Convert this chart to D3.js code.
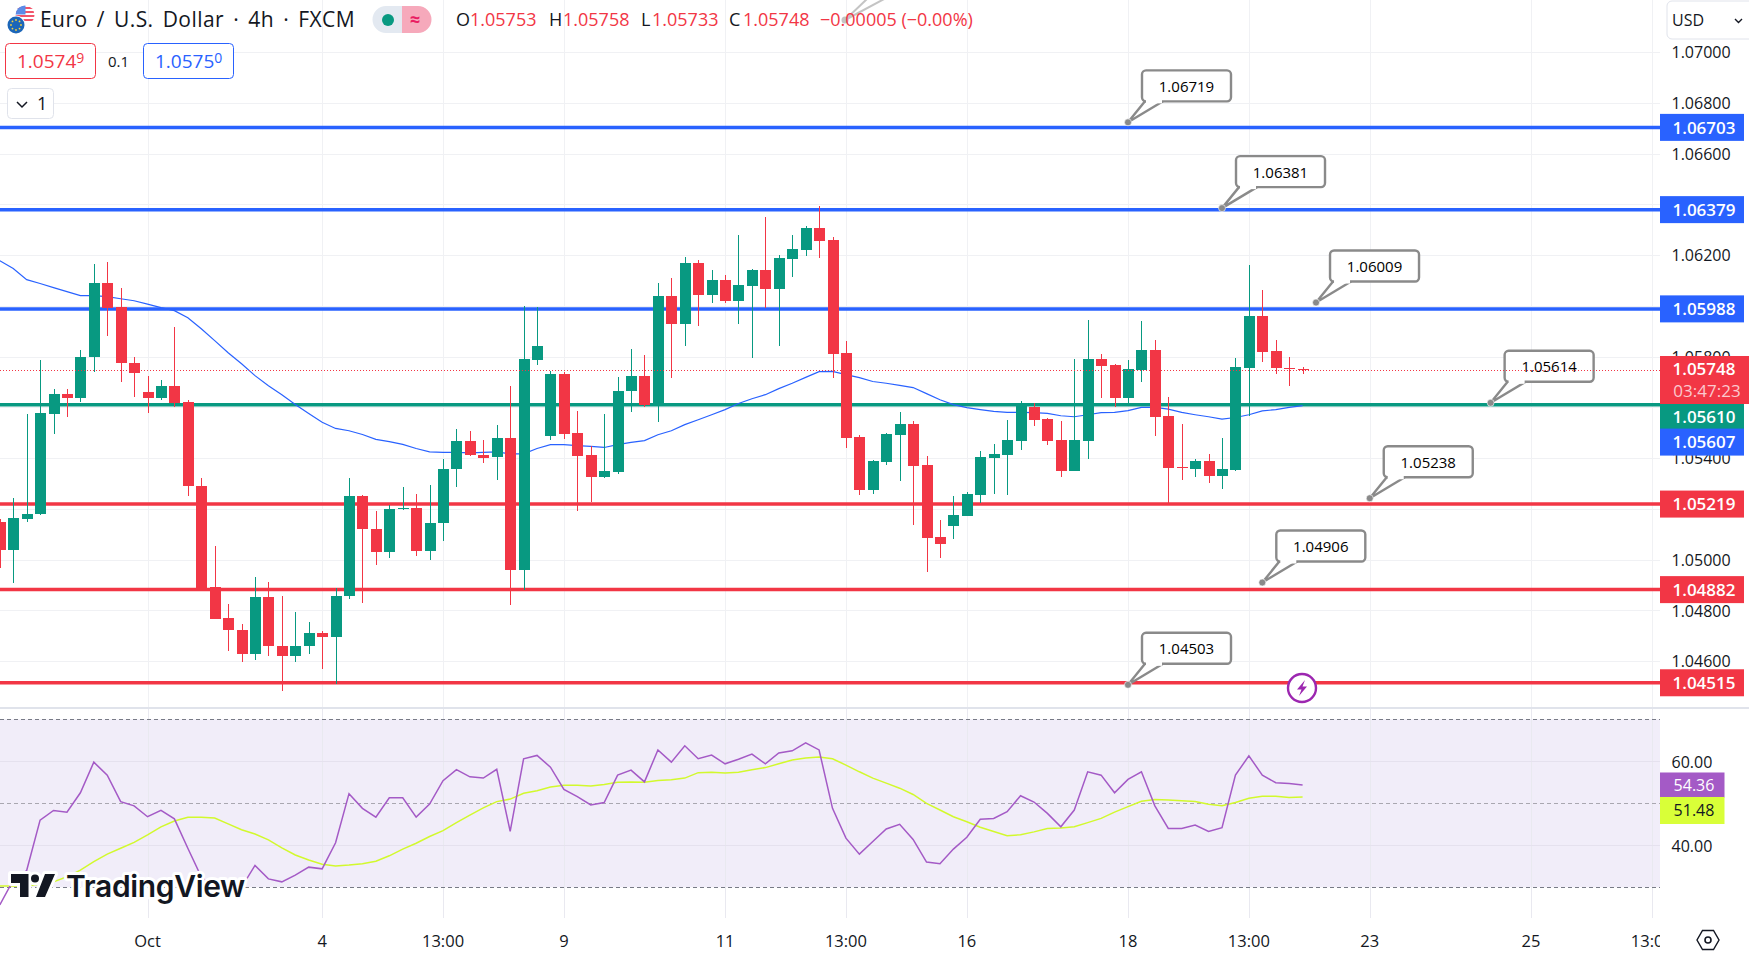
<!DOCTYPE html>
<html><head><meta charset="utf-8">
<script src="https://cdn.jsdelivr.net/npm/d3@7"></script>
<style>
html,body{margin:0;padding:0;background:#fff;overflow:hidden}
svg{display:block}
text{font-family:"Open Sans","Noto Sans",sans-serif;}
</style></head><body><svg id="c" width="1749" height="960"></svg>
<script>
const opens=[1.05149,1.05040,1.05162,1.05178,1.05572,1.05654,1.05635,1.05797,1.06091,1.05997,1.05776,1.05662,1.05635,1.05685,1.05622,1.05292,1.04893,1.04771,1.04721,1.04630,1.04854,1.04661,1.04619,1.04658,1.04712,1.04697,1.04855,1.05252,1.05122,1.05032,1.05198,1.05204,1.05036,1.05143,1.05356,1.05469,1.05414,1.05403,1.05480,1.04961,1.05788,1.05488,1.05733,1.05500,1.05414,1.05327,1.05347,1.05663,1.05725,1.05611,1.06040,1.05930,1.06170,1.06044,1.06103,1.06020,1.06080,1.06143,1.06068,1.06186,1.06218,1.06308,1.06261,1.05815,1.05485,1.05276,1.05386,1.05492,1.05536,1.05374,1.05090,1.05133,1.05173,1.05256,1.05402,1.05413,1.05469,1.05603,1.05555,1.05472,1.05351,1.05469,1.05791,1.05768,1.05638,1.05748,1.05827,1.05567,1.05366,1.05358,1.05390,1.05331,1.05354,1.05756,1.05961,1.05823,1.05756,1.05753];
const highs=[1.05161,1.05244,1.05572,1.05788,1.05672,1.05672,1.05827,1.06163,1.06171,1.06072,1.05799,1.05725,1.05709,1.05918,1.05628,1.05323,1.05052,1.04826,1.04747,1.04933,1.04913,1.04858,1.04795,1.04755,1.04720,1.04889,1.05323,1.05256,1.05193,1.05216,1.05287,1.05260,1.05295,1.05398,1.05516,1.05508,1.05472,1.05532,1.05685,1.06001,1.05997,1.05745,1.05741,1.05587,1.05449,1.05575,1.05721,1.05831,1.05807,1.06091,1.06111,1.06194,1.06182,1.06143,1.06123,1.06281,1.06147,1.06348,1.06202,1.06281,1.06316,1.06395,1.06273,1.05863,1.05492,1.05394,1.05500,1.05583,1.05548,1.05410,1.05157,1.05252,1.05268,1.05429,1.05457,1.05551,1.05626,1.05618,1.05559,1.05548,1.05791,1.05946,1.05811,1.05770,1.05788,1.05942,1.05867,1.05642,1.05536,1.05398,1.05418,1.05481,1.05796,1.06162,1.06064,1.05867,1.05799,1.05758];
const lows=[1.04969,1.04910,1.05149,1.05175,1.05497,1.05564,1.05620,1.05738,1.05880,1.05698,1.05639,1.05576,1.05630,1.05600,1.05249,1.04875,1.04768,1.04641,1.04597,1.04605,1.04621,1.04484,1.04595,1.04629,1.04570,1.04511,1.04846,1.04830,1.04980,1.05007,1.05197,1.05015,1.05000,1.05075,1.05287,1.05410,1.05382,1.05315,1.04822,1.04881,1.05768,1.05473,1.05477,1.05193,1.05228,1.05323,1.05339,1.05583,1.05603,1.05544,1.05717,1.05843,1.05922,1.06013,1.06013,1.05930,1.05796,1.05993,1.05843,1.06115,1.06198,1.06190,1.05717,1.05441,1.05256,1.05260,1.05374,1.05311,1.05138,1.04952,1.05007,1.05082,1.05172,1.05224,1.05260,1.05256,1.05433,1.05528,1.05453,1.05327,1.05349,1.05398,1.05638,1.05603,1.05615,1.05701,1.05489,1.05220,1.05315,1.05327,1.05303,1.05279,1.05350,1.05567,1.05780,1.05733,1.05686,1.05733];
const closes=[1.05040,1.05165,1.05181,1.05576,1.05654,1.05635,1.05799,1.06091,1.05993,1.05773,1.05734,1.05635,1.05685,1.05618,1.05289,1.04877,1.04768,1.04721,1.04630,1.04854,1.04658,1.04619,1.04661,1.04712,1.04697,1.04858,1.05252,1.05119,1.05032,1.05200,1.05204,1.05036,1.05146,1.05359,1.05469,1.05411,1.05402,1.05480,1.04961,1.05791,1.05843,1.05733,1.05497,1.05410,1.05327,1.05351,1.05666,1.05725,1.05611,1.06040,1.05930,1.06170,1.06044,1.06103,1.06020,1.06084,1.06143,1.06068,1.06190,1.06222,1.06308,1.06257,1.05811,1.05481,1.05276,1.05390,1.05496,1.05536,1.05370,1.05086,1.05063,1.05177,1.05260,1.05405,1.05417,1.05472,1.05614,1.05551,1.05469,1.05351,1.05472,1.05791,1.05764,1.05638,1.05752,1.05827,1.05563,1.05362,1.05360,1.05390,1.05331,1.05358,1.05760,1.05961,1.05819,1.05756,1.05750,1.05748];
const priceMA=[1.06178,1.06147,1.06103,1.06088,1.06072,1.06056,1.06040,1.06040,1.06036,1.06028,1.06020,1.06007,1.05993,1.05981,1.05953,1.05910,1.05863,1.05815,1.05772,1.05725,1.05685,1.05650,1.05611,1.05576,1.05541,1.05517,1.05508,1.05493,1.05474,1.05465,1.05454,1.05438,1.05425,1.05423,1.05423,1.05421,1.05423,1.05425,1.05417,1.05417,1.05438,1.05453,1.05453,1.05449,1.05446,1.05442,1.05453,1.05462,1.05469,1.05492,1.05508,1.05532,1.05551,1.05571,1.05591,1.05615,1.05634,1.05650,1.05674,1.05695,1.05718,1.05741,1.05742,1.05729,1.05717,1.05702,1.05695,1.05687,1.05678,1.05654,1.05630,1.05611,1.05599,1.05591,1.05584,1.05580,1.05580,1.05579,1.05576,1.05567,1.05563,1.05571,1.05579,1.05580,1.05587,1.05600,1.05600,1.05593,1.05580,1.05571,1.05563,1.05554,1.05560,1.05571,1.05586,1.05591,1.05600,1.05607];
const rsi=[25.8,31.7,34,46,48.3,47.9,52.5,59.8,56.7,50.4,49.4,46.8,48.3,46.3,39.3,32.5,29.4,27.8,30,35.2,32,31.3,32.9,34.8,34.4,40.6,52.3,48.8,46.7,51.3,51.3,46.7,49.8,55.4,58,56.3,56,58.1,43.3,60.6,61.4,58.6,53.3,51.6,49.6,50.2,56.7,57.9,55.1,62.7,59.8,63.7,60.6,61.5,59.4,60.5,61.7,59.4,62,62.5,64.4,62.7,48.8,41.7,37.9,40.9,43.9,45,41.4,36,35.6,39.1,41.9,46.2,46.4,48,51.8,50.3,47.6,44.4,48.4,57.5,56.7,52.5,55.7,57.5,49.4,44,44,44.8,43.3,44.2,56.7,61.3,56.7,54.9,54.7,54.36];
const rsiMA=[30.3,30.3,30.3,30.7,31.3,32.5,34.1,36.1,37.9,39.3,40.7,42.5,44.4,45.8,46.7,46.7,46.5,45.1,43.7,42.7,41.3,39.4,37.7,36.5,35.5,35.1,35.3,35.6,36.2,37.5,39.1,40.5,42.1,43.5,45.4,47.2,48.9,50.4,51,52.4,53,53.9,54.3,54.3,54.1,54.5,55,55.1,55,55.4,55.6,56,57.3,57.4,57.2,57.4,58,58.5,59.4,60.3,60.8,61,60.6,59.1,57.5,56,54.8,53.6,52.1,50,48.4,46.8,45.6,44.3,43.3,42.3,42.5,43.2,44,44.1,44.4,45.4,46.4,47.9,49.2,50.5,50.9,50.8,50.6,50.4,49.8,49.4,50.2,51.2,51.7,51.7,51.4,51.48];
const hLevels=[1.06703,1.06379,1.05988,1.05610,1.05219,1.04882,1.04515];
const hColors=["#2962ff","#2962ff","#2962ff","#089981","#f23645","#f23645","#f23645"];
const hNudge=[0,0,0,12,0,0,0];
const callPrices=[1.06719,1.06381,1.06009,1.05614,1.05238,1.04906,1.04503];
const callBars=[84,91,98,111,102,94,84];
const gridPrices=[1.070,1.068,1.066,1.064,1.062,1.060,1.058,1.056,1.054,1.052,1.050,1.048,1.046];
const priceTicks=[1.070,1.068,1.066,1.062,1.058,1.054,1.050,1.048,1.046];
const timeTickBars=[11,24,33,42,54,63,72,84,93,102,114,123];
const timeTickLabels=["Oct","4","13:00","9","11","13:00","16","18","13:00","23","25","13:00"];
const rsiGrid=[60,40];
const rsiDash=[70,50,30];
const lastPrice=1.05748, lastMA=1.05607;
const UP="#089981",DOWN="#f23645",BLUE="#2962ff",TXT="#131722",GRID="#f0f1f4";
const PLOTW=1660;

const svg=d3.select("#c");
const defs=svg.append("defs");
defs.append("clipPath").attr("id","mainClip").append("rect").attr("x",0).attr("y",0).attr("width",PLOTW).attr("height",707);
defs.append("clipPath").attr("id","rsiClip").append("rect").attr("x",0).attr("y",709).attr("width",PLOTW).attr("height",209);
defs.append("clipPath").attr("id","timeClip").append("rect").attr("x",0).attr("y",918).attr("width",PLOTW).attr("height",42);
defs.append("clipPath").attr("id","flagClip").append("circle").attr("cx",25).attr("cy",15).attr("r",9.5);

const x=d3.scaleLinear().domain([0,123]).range([-0.2,1651.8]);
const y=d3.scaleLinear().domain([1.07,1.046]).range([52,661.2]);
const yr=d3.scaleLinear().domain([70,30]).range([719.3,887.3]);
const cx=i=>Math.round(x(i));

// grid
const gGrid=svg.append("g").attr("shape-rendering","crispEdges");
gGrid.selectAll("line.h").data(gridPrices).join("line").attr("x1",0).attr("x2",PLOTW).attr("y1",d=>Math.round(y(d))+.5).attr("y2",d=>Math.round(y(d))+.5).attr("stroke",GRID);
gGrid.selectAll("line.v").data(timeTickBars).join("line").attr("x1",d=>cx(d)+.5).attr("x2",d=>cx(d)+.5).attr("y1",0).attr("y2",707).attr("stroke",GRID);

// main pane
const main=svg.append("g").attr("clip-path","url(#mainClip)");
main.selectAll("line.lvl").data(hLevels).join("line").attr("class","lvl").attr("x1",0).attr("x2",PLOTW)
 .attr("y1",d=>y(d)).attr("y2",d=>y(d)).attr("stroke",(d,i)=>hColors[i]).attr("stroke-width",3.5);
main.append("path").datum(priceMA).attr("fill","none").attr("stroke",BLUE).attr("stroke-width",1.2)
 .attr("d",d3.line().x((d,i)=>x(i)).y(d=>y(d)));

const bars=d3.range(opens.length);
const col=i=>closes[i]>=opens[i]?UP:DOWN;
main.append("g").attr("shape-rendering","crispEdges").selectAll("rect.w").data(bars).join("rect")
 .attr("x",i=>cx(i)-.5).attr("width",1).attr("y",i=>y(highs[i])).attr("height",i=>y(lows[i])-y(highs[i])).attr("fill",col);
main.append("g").attr("shape-rendering","crispEdges").selectAll("rect.b").data(bars).join("rect")
 .attr("x",i=>cx(i)-5.5).attr("width",11)
 .attr("y",i=>y(Math.max(opens[i],closes[i])))
 .attr("height",i=>Math.max(1.5,Math.abs(y(opens[i])-y(closes[i])))).attr("fill",col);

// callouts
const CG="#8a8a8a";
function tail(g,ax,ay,bx,by){
  g.append("path").attr("d",`M${ax},${ay}L${bx+3},${by}L${bx+21},${by}Z`).attr("fill","#fff").attr("stroke",CG).attr("stroke-width",2.4).attr("stroke-linejoin","round");
  g.append("circle").attr("cx",ax).attr("cy",ay).attr("r",3.5).attr("fill",CG).attr("stroke","#fff").attr("stroke-width",.6);
}
const gCall=main.append("g");
callPrices.forEach((p,i)=>{
  const ax=x(callBars[i]),ay=y(p)-1,bx=ax+14,by=ay-21;
  const g=gCall.append("g");
  tail(g,ax,ay,bx,by);
  g.append("rect").attr("x",bx).attr("y",by-31).attr("width",89).attr("height",31).attr("rx",4).attr("fill","#fff").attr("stroke",CG).attr("stroke-width",2.4);
  g.append("rect").attr("x",bx+4).attr("y",by-3).attr("width",16).attr("height",5).attr("fill","#fff");
  g.append("text").attr("x",bx+44.5).attr("y",by-15).attr("dy","0.36em").attr("text-anchor","middle").attr("font-size",15).attr("fill","#000").text(d3.format(".5f")(p));
});
{const g=gCall.append("g").attr("opacity",.5);
 g.append("path").attr("d","M845,20L868,-2L886,-2Z").attr("fill","#fff").attr("stroke",CG).attr("stroke-width",2);
 g.append("circle").attr("cx",845).attr("cy",20).attr("r",3.5).attr("fill",CG);}
main.append("line").attr("x1",0).attr("x2",PLOTW).attr("y1",Math.round(y(lastPrice))+.5).attr("y2",Math.round(y(lastPrice))+.5)
 .attr("stroke",DOWN).attr("stroke-dasharray","1 2").attr("shape-rendering","crispEdges");

// bolt icon
{const g=svg.append("g").attr("transform",`translate(1302,688)`);
 g.append("circle").attr("r",14).attr("fill","#fff").attr("stroke","#9c27b0").attr("stroke-width",2.4);
 g.append("path").attr("d","M3,-8L-5,1.5L-0.5,1.5L-3,8L5,-1.5L0.5,-1.5Z").attr("fill","#9c27b0");}

// separator + RSI
svg.append("rect").attr("x",0).attr("y",707).attr("width",1749).attr("height",2).attr("fill","#e0e3eb");
const r=svg.append("g").attr("clip-path","url(#rsiClip)");
r.append("rect").attr("x",0).attr("width",PLOTW).attr("y",yr(70)).attr("height",yr(30)-yr(70)).attr("fill","#f1edf9");
r.append("g").attr("shape-rendering","crispEdges").selectAll("line").data(timeTickBars).join("line").attr("x1",d=>cx(d)+.5).attr("x2",d=>cx(d)+.5).attr("y1",709).attr("y2",918).attr("stroke","#e9e9f0");
r.append("g").attr("shape-rendering","crispEdges").selectAll("line").data(rsiGrid).join("line").attr("x1",0).attr("x2",PLOTW).attr("y1",d=>yr(d)).attr("y2",d=>yr(d)).attr("stroke","#e5e1ee");
r.append("g").attr("shape-rendering","crispEdges").selectAll("line").data(rsiDash).join("line").attr("x1",0).attr("x2",PLOTW).attr("y1",d=>yr(d)).attr("y2",d=>yr(d))
 .attr("stroke",d=>d===50?"#a9a7b0":"#787b86").attr("stroke-dasharray","4 3");
const ln=d3.line().x((d,i)=>x(i)).y(d=>yr(d));
r.append("path").datum(rsiMA).attr("fill","none").attr("stroke","#d2f92d").attr("stroke-width",1.5).attr("d",ln);
r.append("path").datum(rsi).attr("fill","none").attr("stroke","#a45ac6").attr("stroke-width",1.5).attr("d",ln);

// logo
{const g=svg.append("g");
 const mark="M11,874H28.5V897H20V883H11Z M45,874H55L45,897H36Z";
 g.append("path").attr("d",mark).attr("fill","#fff").attr("stroke","#fff").attr("stroke-width",6).attr("stroke-linejoin","round");
 g.append("circle").attr("cx",35).attr("cy",878.5).attr("r",7).attr("fill","#fff");
 g.append("path").attr("d",mark).attr("fill","#131722");
 g.append("circle").attr("cx",35).attr("cy",878.5).attr("r",4).attr("fill","#131722");
 g.append("text").attr("x",66).attr("y",897).attr("font-size",30).attr("font-weight",600).attr("letter-spacing",-0.35)
  .style("font-family","Inter,sans-serif").attr("fill","#131722").attr("stroke","#fff").attr("stroke-width",6).attr("paint-order","stroke").attr("stroke-linejoin","round").text("TradingView");
}

// price axis
const AF='"Open Sans","Noto Sans",sans-serif';
const axisP=d3.axisRight(y).tickValues(priceTicks).tickFormat(d3.format(".5f")).tickSize(0).tickPadding(0);
const gA=svg.append("g").attr("transform","translate(1671.5,0.5)").call(axisP);
gA.select(".domain").remove();
gA.selectAll("text").attr("font-size",16).attr("fill",TXT).style("font-family",AF);

// RSI axis
const axisR=d3.axisRight(yr).tickValues(rsiGrid).tickFormat(d3.format(".2f")).tickSize(0).tickPadding(0);
const gR=svg.append("g").attr("transform","translate(1671.5,1)").call(axisR);
gR.select(".domain").remove();
gR.selectAll("text").attr("font-size",16).attr("fill",TXT).style("font-family",AF);

// time axis
const axisT=d3.axisBottom(x).tickValues(timeTickBars).tickFormat((d,i)=>timeTickLabels[i]).tickSize(0).tickPadding(0);
const gT=svg.append("g").attr("clip-path","url(#timeClip)").append("g").attr("transform","translate(-0.5,935)").call(axisT);
gT.select(".domain").remove();
gT.selectAll("text").attr("font-size",16.5).attr("fill",TXT).style("font-family",AF);

// price labels
function lab(yc,h,fill,t,tc){
  svg.append("rect").attr("x",1660).attr("y",yc-h/2).attr("width",84).attr("height",h).attr("fill",fill);
  svg.append("text").attr("x",1704).attr("y",yc).attr("dy","0.36em").attr("text-anchor","middle").attr("font-size",17).attr("font-weight",600).attr("fill",tc||"#fff").text(t);
}
hLevels.forEach((p,i)=>lab(y(p)+hNudge[i],27,hColors[i],d3.format(".5f")(p)));
// last price
svg.append("rect").attr("x",1660).attr("y",356).attr("width",89).attr("height",48).attr("fill",DOWN);
svg.append("text").attr("x",1704).attr("y",369).attr("dy","0.36em").attr("text-anchor","middle").attr("font-size",17).attr("font-weight",600).attr("fill","#fff").text(d3.format(".5f")(lastPrice));
svg.append("text").attr("x",1707).attr("y",391).attr("dy","0.36em").attr("text-anchor","middle").attr("font-size",17).attr("fill","#fbc9ce").text("03:47:23");
lab(y(lastMA)+36.5,27,BLUE,d3.format(".5f")(lastMA));
// rsi labels
function rlab(yc,h,fill,t,tc){
  svg.append("rect").attr("x",1660).attr("y",yc-h/2).attr("width",64.5).attr("height",h).attr("fill",fill);
  svg.append("text").attr("x",1694).attr("y",yc).attr("dy","0.36em").attr("text-anchor","middle").attr("font-size",16).attr("font-weight",500).attr("fill",tc).text(t);
}
rlab(yr(rsi[97]),25,"#a45ac6",d3.format(".2f")(rsi[97]),"#fff");
rlab(yr(rsiMA[97])+13.4,27,"#d9ff38",d3.format(".2f")(rsiMA[97]),"#131722");

// USD button
svg.append("rect").attr("x",1667).attr("y",1).attr("width",90).attr("height",38).attr("rx",5).attr("fill","#fff").attr("stroke","#e0e3eb");
svg.append("text").attr("x",1672).attr("y",20).attr("dy","0.36em").attr("font-size",16).attr("fill",TXT).text("USD");
svg.append("path").attr("d","M1735,19l3.5,3.5l3.5,-3.5").attr("fill","none").attr("stroke",TXT).attr("stroke-width",1.4);
// gear
{const g=svg.append("g").attr("transform","translate(1708,940)");
 g.append("path").attr("d","M-5.5,-9.5H5.5L11,0L5.5,9.5H-5.5L-11,0Z").attr("fill","none").attr("stroke",TXT).attr("stroke-width",1.4);
 g.append("circle").attr("r",3).attr("fill","none").attr("stroke",TXT).attr("stroke-width",1.6);}

// header
const H=svg.append("g");
const fl=H.append("g").attr("clip-path","url(#flagClip)");
fl.append("rect").attr("x",15).attr("y",5).attr("width",20).attr("height",20).attr("fill","#fff");
[7,11,15,19].forEach(v=>fl.append("rect").attr("x",15).attr("y",v).attr("width",20).attr("height",2).attr("fill","#f2546a"));
fl.append("rect").attr("x",15).attr("y",5).attr("width",10.5).attr("height",9.5).attr("fill","#5b8be8");
H.append("circle").attr("cx",16).attr("cy",25).attr("r",9.5).attr("fill","#fff");
H.append("circle").attr("cx",16).attr("cy",25).attr("r",8.5).attr("fill","#1c66b8");
d3.range(8).forEach(k=>H.append("circle").attr("cx",16+5*Math.cos(k*Math.PI/4)).attr("cy",25+5*Math.sin(k*Math.PI/4)).attr("r",.9).attr("fill","#f7d33a"));
H.append("text").attr("x",40).attr("y",27).attr("font-size",21).attr("letter-spacing",0.45).attr("word-spacing",3.2).attr("fill",TXT).text("Euro / U.S. Dollar · 4h · FXCM");
// pill
H.append("path").attr("d","M402,6H386a13.5,13.5 0 0 0 0,27H402Z").attr("fill","#e3e9f1");
H.append("path").attr("d","M402,6H418a13.5,13.5 0 0 1 0,27H402Z").attr("fill","#f6a9bb");
H.append("circle").attr("cx",388).attr("cy",20).attr("r",6).attr("fill",UP);
H.append("text").attr("x",415).attr("y",20).attr("dy","0.36em").attr("text-anchor","middle").attr("font-size",18).attr("font-weight",700).attr("fill","#e91e63").text("≈");
// OHLC
const ohlcParts=[["O",TXT,456],["1.05753",DOWN,470],["H",TXT,549],["1.05758",DOWN,563],["L",TXT,641],["1.05733",DOWN,652],["C",TXT,729],["1.05748",DOWN,743],["−0.00005 (−0.00%)",DOWN,820]];
const tOhlc=H.append("text").attr("y",26).attr("font-size",18);
ohlcParts.forEach(([s,c,px])=>tOhlc.append("tspan").attr("x",px).attr("fill",c).text(s));
// bid/ask
H.append("rect").attr("x",5.5).attr("y",43.5).attr("width",90).attr("height",35).attr("rx",4).attr("fill","#fff").attr("stroke",DOWN);
H.append("rect").attr("x",143.5).attr("y",43.5).attr("width",90).attr("height",35).attr("rx",4).attr("fill","#fff").attr("stroke",BLUE);
const bid=H.append("text").attr("x",17).attr("y",68).attr("font-size",19).attr("fill",DOWN);
bid.append("tspan").text("1.0574");bid.append("tspan").attr("font-size",14).attr("dy",-5).text("9");
H.append("text").attr("x",108).attr("y",67).attr("font-size",15).attr("fill",TXT).text("0.1");
const ask=H.append("text").attr("x",155).attr("y",68).attr("font-size",19).attr("fill",BLUE);
ask.append("tspan").text("1.0575");ask.append("tspan").attr("font-size",14).attr("dy",-5).text("0");
H.append("rect").attr("x",7.5).attr("y",88.5).attr("width",46).attr("height",30).attr("rx",4).attr("fill","#fff").attr("stroke","#e0e3eb");
H.append("path").attr("d","M17,102l5,5l5,-5").attr("fill","none").attr("stroke",TXT).attr("stroke-width",1.5);
H.append("text").attr("x",37).attr("y",110).attr("font-size",18).attr("fill",TXT).text("1");
</script></body></html>
